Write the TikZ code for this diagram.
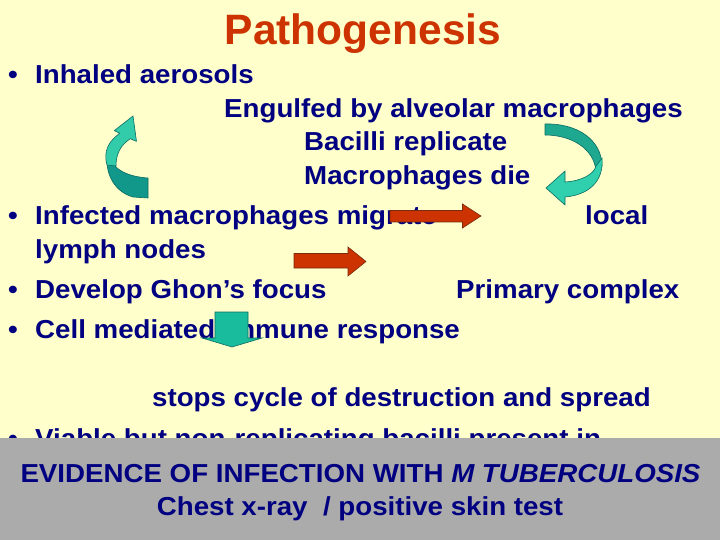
\documentclass[tikz,border=0pt]{standalone}
\usepackage{fontspec}
\setmainfont[FakeStretch=1.065]{Liberation Sans}
\newfontfamily\titlefont[FakeStretch=1.0]{Liberation Sans}
\definecolor{bg}{HTML}{FFFFCC}
\definecolor{navy}{HTML}{000080}
\definecolor{rust}{HTML}{CC3300}
\definecolor{band}{HTML}{ABABAB}
\definecolor{tealL}{HTML}{33CCAA}
\definecolor{tealM}{HTML}{1FA890}
\definecolor{tealD}{HTML}{12988A}
\definecolor{tealB}{HTML}{30D0AE}
\definecolor{tealF}{HTML}{19BC9C}
\definecolor{tealE}{HTML}{0B6B62}
\definecolor{redE}{HTML}{7A2A10}
\begin{document}
\begin{tikzpicture}[x=1pt,y=-1pt,
  txt/.style={anchor=base west, inner sep=0pt, text=navy, font=\bfseries\fontsize{26}{30}\selectfont},
  ctxt/.style={txt, anchor=base},
  redarrow/.style={fill=rust, draw=redE, line width=0.6pt, line join=miter},
  curvd/.style={draw=tealE, line width=0.6pt, line join=round}
]
\useasboundingbox (0,0) rectangle (720,540);
\fill[bg] (0,0) rectangle (720,540);

% title
\node[anchor=base, inner sep=0pt, text=rust, font=\titlefont\bfseries\fontsize{42.5}{48}\selectfont] (title) at (363,45) {Pathogenesis};

% text lines
\node[txt] (b1) at (8,83.3) {\textbullet};
\node[txt] (t1) at (35,83.3) {Inhaled aerosols};
\node[txt] (t2) at (224,117.5) {Engulfed by alveolar macrophages};
\node[txt] (t3) at (304,151) {Bacilli replicate};
\node[txt] (t4) at (304,185) {Macrophages die};
\node[txt] (b2) at (8,225) {\textbullet};
\node[txt] (t5) at (35,225) {Infected macrophages migrate};
\node[txt] (t5b) at (585,225) {local};
\node[txt] (t6) at (35,258.3) {lymph nodes};
\node[txt] (b3) at (8,298.3) {\textbullet};
\node[txt] (t7) at (35,298.3) {Develop Ghon’s focus};
\node[txt] (t7b) at (456,298.3) {Primary complex};
\node[txt] (b4) at (8,338.3) {\textbullet};
\node[txt] (t8) at (35,338.3) {Cell mediated immune response};
\node[txt] (t9) at (152,406) {stops cycle of destruction and spread};
\node[txt] (b5) at (8,447) {\textbullet};
\node[txt] (t10) at (35,447) {Viable but non-replicating bacilli present in};

% curved arrows (left)
\filldraw[curvd, fill=tealD] (107,158) .. controls (106,175) and (115,192) .. (133,197) -- (148,198) -- (148,178) .. controls (132,177) and (118,172) .. (113,163) -- cycle;
\filldraw[curvd, fill=tealL] (107,165) .. controls (103,151) and (109,141) .. (119.7,133.3) -- (114.3,130.6) -- (133,116) -- (136.5,141.4) -- (130.3,138.7) .. controls (121,145) and (116,153) .. (116,166) -- cycle;

% curved arrow (right)
\filldraw[curvd, fill=tealM] (545,124) .. controls (577,123) and (602,140) .. (602,166) -- (596,171) .. controls (594,149) and (572,135) .. (545,135) -- cycle;
\filldraw[curvd, fill=tealB] (602,158) .. controls (604,182) and (588,195) .. (565,197) -- (565,205) -- (546,188) -- (565,171) -- (565,182) .. controls (582,181) and (594,174) .. (596,166) -- cycle;

% red block arrows
\filldraw[redarrow] (390,210.5) -- (462.5,210.5) -- (462.5,204) -- (481,216) -- (462.5,228) -- (462.5,222) -- (390,222) -- cycle;
\filldraw[redarrow] (294,253.5) -- (348,253.5) -- (348,247) -- (366,261.5) -- (348,276) -- (348,268) -- (294,268) -- cycle;

% teal down arrow
\filldraw[curvd, fill=tealF, line join=miter] (215,312) -- (248,312) -- (248,338) -- (262,338) -- (232,347) -- (202,338) -- (215,338) -- cycle;

% bottom band
\fill[band] (0,438) rectangle (720,540);
\node[ctxt] (e1) at (360.5,482) {EVIDENCE OF INFECTION WITH \textit{M TUBERCULOSIS}};
\node[ctxt] (e2) at (360,515) {Chest x-ray\ \ / positive skin test};
\end{tikzpicture}
\end{document}
